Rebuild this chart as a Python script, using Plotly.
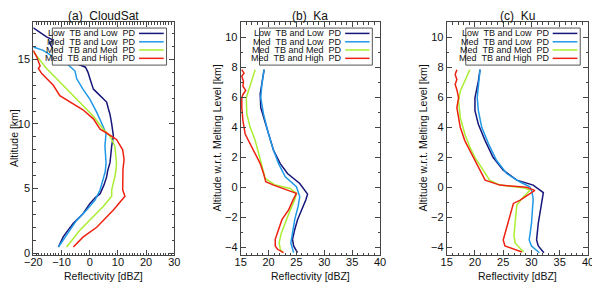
import plotly.graph_objects as go

# ---------------- data ----------------
series_names = ["Low  TB and Low  PD", "Med  TB and Low  PD", "Med  TB and Med  PD", "Med  TB and High  PD"]
series_colors = ["#15157a", "#1f98e8", "#aaee33", "#ee2211"]
panel_titles = ["(a)  CloudSat", "(b)  Ka", "(c)  Ku"]
y_titles = ["Altitude [km]", "Altitude w.r.t. Melting Level [km]", "Altitude w.r.t. Melting Level [km]"]
x_title = "Reflectivity [dBZ]"

# (a) CloudSat : reflectivity (dBZ) and altitude (km)
a_ll_ref = [-20, -17.5, -15.3, -12.9, -14.3, -13.5, -12.5, -11, -8.8, -5, -1.5, -0.6, 0.1, 1.3, 2.5, 3.7, 6, 6.6, 7.2, 7.8, 8.4, 7.8, 7.4, 7.2, 6.4, 6, 5.1, 3.7, 2, 0.1, -2.3, -4, -5.8, -7.6, -9.4, -11.1]
a_ll_alt = [17.45, 17.1, 16.75, 16.5, 16.3, 16.0, 15.7, 15.3, 14.9, 14.7, 14.4, 14.0, 13.5, 12.7, 12.45, 12.2, 11.7, 11.2, 10.75, 10.0, 9.06, 8.3, 7.6, 7.0, 6.4, 5.9, 5.3, 4.6, 4.3, 3.85, 3.07, 2.7, 2.3, 1.8, 1.25, 0.47]
a_ml_ref = [-20, -16.5, -12.9, -8.2, -5.2, -4.6, -2.4, 0.1, 2.5, 4.8, 5.8, 5.4, 5.8, 5.5, 4.8, 3.7, 1.9, -1.1, -4.6, -7, -9.4, -11.1]
a_ml_alt = [15.96, 15.7, 15.2, 14.7, 14.1, 13.5, 12.7, 11.9, 10.9, 9.8, 9.3, 8.3, 7.0, 6.3, 5.7, 4.9, 4.1, 3.33, 2.55, 1.77, 1.0, 0.47]
a_mm_ref = [-20, -17.6, -15.3, -11.7, -8.2, -3.5, 1.3, 4.8, 7.2, 8.9, 9.5, 9.3, 8.9, 7.8, 7.8, 4.8, 0.1, -3.5, -8.2]
a_mm_alt = [15.6, 14.9, 14.3, 13.5, 12.7, 11.7, 10.6, 9.6, 9.06, 8.3, 7.0, 6.4, 5.9, 4.9, 4.4, 3.6, 2.55, 1.77, 0.47]
a_mh_ref = [-20, -18.8, -17.6, -18.2, -17, -15.3, -12.9, -10.6, -7, -2.4, 1.3, 3.7, 6, 9.5, 11.7, 12.2, 11.8, 11.7, 11.7, 12.5, 8.4, 2.5, -2.3, -5.8]
a_mh_alt = [15.7, 15.2, 14.5, 14.3, 13.9, 13.5, 13.0, 12.2, 11.7, 11.1, 10.4, 9.6, 9.3, 8.8, 8.0, 7.24, 6.5, 5.9, 4.9, 4.4, 3.33, 2.0, 1.25, 0.47]

# (b) Ka : reflectivity (dBZ) and altitude w.r.t. melting level (km)
b_ll_ref = [19.2, 18.9, 18.5, 18.6, 19.1, 20.0, 20.9, 22.1, 23.4, 25.6, 26.6, 27.0, 26.7, 25.9, 25.2, 24.7, 24.3, 24.5, 25.2]
b_ll_alt = [7.83, 7.06, 6.2, 5.3, 4.65, 3.55, 2.46, 1.58, 0.92, 0.26, -0.2, -0.45, -0.83, -1.5, -2.15, -2.8, -3.46, -3.9, -4.34]
b_ml_ref = [19.2, 18.8, 18.6, 19.1, 20.0, 20.9, 21.8, 23.0, 25.0, 25.6, 25.3, 24.7, 24.3, 24.0, 24.5]
b_ml_alt = [7.83, 6.84, 5.96, 4.87, 3.55, 2.46, 1.58, 0.7, 0.04, -0.61, -1.27, -2.15, -3.03, -3.7, -4.34]
b_mm_ref = [17.6, 16.7, 16.0, 16.1, 16.7, 17.6, 18.2, 18.8, 19.4, 21.2, 23.9, 25.0, 24.7, 23.9, 23.0, 22.3, 21.9, 22.1, 22.5]
b_mm_alt = [7.83, 6.84, 5.96, 4.87, 3.99, 3.11, 2.24, 1.36, 0.59, 0.15, -0.07, -0.4, -0.83, -1.5, -2.37, -3.03, -3.68, -4.12, -4.34]
b_mh_ref = [15.2, 15.6, 15.2, 15.5, 15.4, 15.9, 15.4, 15.2, 15.2, 15.4, 15.8, 16.7, 17.6, 18.5, 19.1, 19.5, 20.9, 23.3, 25.0, 24.4, 23.6, 22.4, 21.6, 21.2, 21.2, 21.6, 22.7]
b_mh_alt = [7.83, 7.6, 7.4, 7.06, 6.73, 6.45, 6.18, 5.96, 5.3, 4.43, 3.55, 2.9, 2.24, 1.58, 0.92, 0.37, 0.15, -0.18, -0.4, -0.83, -1.5, -2.15, -3.03, -3.46, -3.9, -4.12, -4.34]

# (c) Ku : reflectivity (dBZ) and altitude w.r.t. melting level (km)
c_ll_ref = [20.9, 20.6, 20.0, 20.0, 20.6, 21.8, 23.2, 25.0, 27.4, 30.3, 32.1, 31.8, 31.2, 30.9, 31.2, 32.2]
c_ll_alt = [7.83, 7.06, 5.96, 5.1, 4.2, 3.11, 2.0, 1.14, 0.48, 0.15, -0.35, -1.07, -2.4, -3.5, -3.9, -4.35]
c_ml_ref = [20.9, 20.7, 20.4, 20.6, 21.2, 22.4, 23.8, 25.6, 27.9, 29.7, 30.1, 30.3, 30.0, 29.6, 30.0, 31.4]
c_ml_alt = [7.83, 6.84, 5.96, 5.1, 3.99, 2.9, 1.8, 0.92, 0.37, 0.04, -0.3, -0.8, -2.4, -3.5, -3.9, -4.35]
c_mm_ref = [19.1, 18.2, 17.4, 17.1, 17.4, 18.2, 19.1, 20.0, 21.5, 22.6, 24.4, 28.8, 29.7, 28.3, 27.4, 27.1, 26.9, 27.1, 28.6]
c_mm_alt = [7.83, 7.06, 6.4, 5.75, 4.65, 3.55, 2.68, 2.0, 1.14, 0.48, 0.15, -0.05, -0.2, -0.75, -1.2, -2.2, -3.2, -3.7, -4.3]
c_mh_ref = [16.8, 16.5, 16.8, 16.5, 16.8, 17.1, 16.8, 17.1, 17.4, 18.2, 18.8, 19.7, 20.9, 21.8, 24.4, 29.1, 30.6, 28.0, 26.8, 26.2, 25.6, 25.0, 25.3, 28.3]
c_mh_alt = [7.83, 7.5, 7.17, 6.84, 6.5, 5.96, 5.3, 4.65, 4.0, 3.11, 2.68, 2.0, 1.14, 0.48, 0.15, 0.0, -0.2, -0.85, -1.07, -1.9, -2.8, -3.5, -3.9, -4.3]

panels = [
    [(a_ll_ref, a_ll_alt), (a_ml_ref, a_ml_alt), (a_mm_ref, a_mm_alt), (a_mh_ref, a_mh_alt)],
    [(b_ll_ref, b_ll_alt), (b_ml_ref, b_ml_alt), (b_mm_ref, b_mm_alt), (b_mh_ref, b_mh_alt)],
    [(c_ll_ref, c_ll_alt), (c_ml_ref, c_ml_alt), (c_mm_ref, c_mm_alt), (c_mh_ref, c_mh_alt)],
]
x_ranges = [[-20, 30], [15, 40], [15, 40]]
y_ranges = [[-0.15, 17.9], [-4.5, 11], [-4.5, 11]]
x_dticks = [(10, 1), (5, 1), (5, 1)]
y_dticks = [(5, 1), (2, 1), (2, 1)]

# ---------------- layout geometry ----------------
# the page body adds an 8px offset, so the figure is 592x280 placed at (8, 8)
OFF = 8
W, H = 600 - OFF, 288 - OFF


def fx(px):
    return (px - OFF) / W


def fy(py):
    return (H - (py - OFF)) / H


x_domains = [[fx(33.3), fx(174.3)], [fx(240.7), fx(380)], [fx(446.7), fx(588)]]
y_domain = [fy(255), fy(22)]
ytitle_x = [fx(13.5), fx(216), fx(422)]

FONT = "Liberation Sans, Arial, sans-serif"
fig = go.Figure()
annotations = []
shapes = []

for p, curves in enumerate(panels):
    sfx = "" if p == 0 else str(p + 1)
    for s, (xr, yr) in enumerate(curves):
        fig.add_trace(go.Scatter(x=xr, y=yr, mode="lines", xaxis="x" + sfx, yaxis="y" + sfx,
                                 line=dict(color=series_colors[s], width=1.5), showlegend=False,
                                 name=series_names[s]))
    axstyle = dict(showline=True, linecolor="#444", linewidth=1, mirror="ticks", ticks="inside",
                   ticklen=5, tickcolor="#444", showgrid=False, zeroline=False, automargin=False,
                   tickfont=dict(family=FONT, size=11, color="#111"))
    xa = dict(axstyle, domain=x_domains[p], range=x_ranges[p], dtick=x_dticks[p][0],
              tick0=0, anchor="y" + sfx, ticklabelstandoff=-3,
              minor=dict(dtick=x_dticks[p][1], ticks="inside", ticklen=2.5, tickcolor="#444"))
    ya = dict(axstyle, domain=y_domain, range=y_ranges[p], dtick=y_dticks[p][0],
              tick0=0, anchor="x" + sfx,
              minor=dict(dtick=y_dticks[p][1], ticks="inside", ticklen=2.5, tickcolor="#444"))
    fig.update_layout(**{"xaxis" + sfx: xa, "yaxis" + sfx: ya})

    xd = "x" + sfx + " domain"
    yd = "y" + sfx + " domain"
    cx = (x_domains[p][0] + x_domains[p][1]) / 2
    annotations.append(dict(text=panel_titles[p], x=cx, y=fy(8.3), xref="paper", yref="paper",
                            xanchor="center", yanchor="top", borderpad=0,
                            showarrow=False, font=dict(family=FONT, size=12, color="#111")))
    annotations.append(dict(text=x_title, x=cx, y=fy(276), xref="paper", yref="paper",
                            xanchor="center", yanchor="middle",
                            showarrow=False, font=dict(family=FONT, size=10.5, color="#111")))
    annotations.append(dict(text=y_titles[p], x=ytitle_x[p], y=(y_domain[0] + y_domain[1]) / 2,
                            xref="paper", yref="paper", textangle=-90, showarrow=False,
                            xanchor="center", yanchor="middle", borderpad=0,
                            font=dict(family=FONT, size=10.5, color="#111")))
    # legend box
    shapes.append(dict(type="rect", xref=xd, yref=yd, x0=0.135, x1=0.945, y0=0.815, y1=0.974,
                       line=dict(color="#555", width=1), fillcolor="white", layer="above"))
    for s in range(4):
        yy = [0.951, 0.915, 0.880, 0.844][s]
        annotations.append(dict(text=series_names[s].replace("  ", "&nbsp;&nbsp;"), x=0.735, y=yy,
                                xref=xd, yref=yd, xanchor="right", yanchor="middle", borderpad=0,
                                showarrow=False, font=dict(family=FONT, size=9, color="#111")))
        shapes.append(dict(type="line", xref=xd, yref=yd, x0=0.75, x1=0.925, y0=yy, y1=yy,
                           line=dict(color=series_colors[s], width=1.5), layer="above"))

fig.update_layout(template="none", width=W, height=H,
                  margin=dict(l=0, r=0, t=0, b=0, autoexpand=False),
                  paper_bgcolor="white", plot_bgcolor="white",
                  annotations=annotations, shapes=shapes, showlegend=False)
fig.write_html("out.html")
